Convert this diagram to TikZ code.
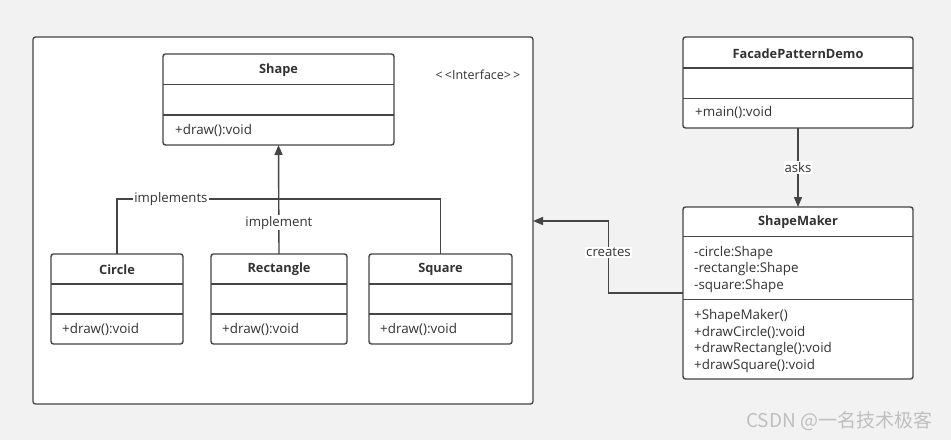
\documentclass[tikz,border=0pt]{standalone}
\usepackage{fontspec}
\setmainfont{Open Sans}
\newfontfamily\cjk{Noto Sans CJK SC}
\usetikzlibrary{arrows.meta,calc}
\definecolor{bg}{HTML}{F2F2F2}
\definecolor{ln}{HTML}{454545}
\definecolor{tx}{HTML}{333333}
\tikzset{
  cls/.style={draw=ln, line width=1.4pt, fill=white, rounded corners=2.5pt, inner sep=0pt, outer sep=0pt},
  divl/.style={draw=ln, line width=1.4pt},
  ttl/.style={font=\bfseries\fontsize{12.8}{14}\selectfont, text=tx, inner sep=0pt},
  mem/.style={font=\fontsize{13.4}{16.6}\selectfont, text=tx, inner sep=0pt, align=left, anchor=west},
  con/.style={draw=ln, line width=1.4pt},
  arr/.style={con, -{Triangle[length=10pt,width=8pt]}},
  lbl/.style={fill=white, inner sep=1pt, font=\fontsize{13.2}{14}\selectfont, text=tx},
}
% #1 name, #2 x1, #3 y1, #4 x2, #5 y2, #6 divider1, #7 divider2
\newcommand\classbox[7]{%
  \node[cls, minimum width={#4-#2}, minimum height={#5-#3}, anchor=north west] (#1) at (#2,-#3) {};
  \draw[divl] (#2,-#6) -- (#4,-#6);
  \draw[divl] (#2,-#7) -- (#4,-#7);
}
\begin{document}
\begin{tikzpicture}[x=1pt,y=1pt]
  \fill[bg] (0,0) rectangle (951,-440);
  \useasboundingbox (0,0) rectangle (951,-440);

  % container
  \node[cls, line width=1.3pt, minimum width=500, minimum height=367, anchor=north west] (pkg) at (33,-37) {};
  \node[font=\fontsize{12.5}{13}\selectfont, text=tx] (iface) at (478,-75) {<\,<Interface>\,>};

  % Shape
  \classbox{shape}{163}{54}{394}{145}{84.3}{115}
  \node[ttl] (shapet) at (278.5,-70.5) {Shape};
  \node[mem] (shapem) at (175,-130) {+draw():void};

  % Circle
  \classbox{circle}{51}{254}{183}{344}{284}{314}
  \node[ttl] (circlet) at (117,-269.5) {Circle};
  \node[mem] (circlem) at (62,-329) {+draw():void};

  % Rectangle
  \classbox{rect}{211}{254}{347}{344}{284}{314}
  \node[ttl] (rectt) at (279,-269.5) {Rectangle};
  \node[mem] (rectm) at (222,-329) {+draw():void};

  % Square
  \classbox{square}{369}{254}{512}{344}{284}{314}
  \node[ttl] (squaret) at (440.5,-269.5) {Square};
  \node[mem] (squarem) at (380,-329) {+draw():void};

  % FacadePatternDemo
  \classbox{demo}{683}{37}{913}{128}{68}{98.3}
  \node[ttl] (demot) at (798,-54) {FacadePatternDemo};
  \node[mem] (demom) at (695,-112.7) {+main():void};

  % ShapeMaker
  \classbox{maker}{683}{207}{913}{379}{236.7}{299.3}
  \node[ttl] (makert) at (798,-222.5) {ShapeMaker};
  \node[mem] (makera) at (694,-269.5) {-circle:Shape\\-rectangle:Shape\\-square:Shape};
  \node[mem] (makerm) at (694,-341) {+ShapeMaker()\\+drawCircle():void\\+drawRectangle():void\\+drawSquare():void};

  % connectors
  \coordinate (j) at (shape.south |- 0,-199);
  \draw[con] (circle.north) |- node[lbl, pos=0.667] {implements} (j);
  \draw[con] (square.north) |- (j);
  \draw[arr] (rect.north) -- node[lbl, pos=0.287] {implement} (shape.south);

  \draw[arr] (demo.south) -- node[lbl] {asks} (maker.north);

  \coordinate (pkgin) at (pkg.east |- 0,-221);
  \draw[arr] (maker.west) -- ++(-74.5,0) |- node[lbl, pos=0.283] {creates} (pkgin);

  % watermark
  \node[font=\cjk\fontsize{19}{21}\selectfont, text=black!25, anchor=west, inner sep=0pt] (wm) at (746,-421) {CSDN @一名技术极客};
\end{tikzpicture}
\end{document}
